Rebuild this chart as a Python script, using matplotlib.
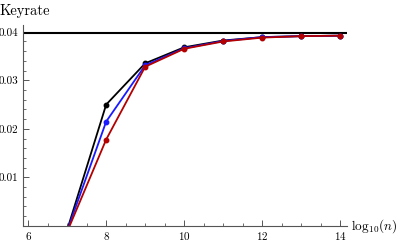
import numpy as np
import matplotlib.pyplot as plt
from matplotlib.ticker import MultipleLocator

plt.rcParams['font.family'] = ['cmr10', 'DejaVu Serif']
plt.rcParams['mathtext.fontset'] = 'cm'
plt.rcParams['axes.formatter.use_mathtext'] = True

logn = [7, 8, 9, 10, 11, 12, 13, 14]
black = [-0.0008, 0.0250, 0.0335, 0.0368, 0.0382, 0.0389, 0.0391, 0.0392]
blue = [-0.0010, 0.0215, 0.0331, 0.0366, 0.0381, 0.0389, 0.0391, 0.0392]
red = [-0.0012, 0.0178, 0.0328, 0.0365, 0.0380, 0.0388, 0.0391, 0.0392]
limit = 0.0397
yticks = [0.01, 0.02, 0.03, 0.04]
ylabels = ['0.01', '0.02', '0.03', '0.04']

fig = plt.figure(figsize=(3.99, 2.45), dpi=100)
ax = fig.add_axes([0.057, 0.078, 0.812, 0.82])

ax.axhline(limit, color='k', lw=1.5)
ax.plot(logn, black, '-o', color='k', lw=1.3, ms=3.2)
ax.plot(logn, blue, '-o', color='#1a1aff', lw=1.3, ms=3.2)
ax.plot(logn, red, '-o', color='#b30000', lw=1.3, ms=3.2)

ax.set_xlim(5.86, 14.17)
ax.set_ylim(0, 0.0414)
ax.xaxis.set_major_locator(MultipleLocator(2))
ax.xaxis.set_minor_locator(MultipleLocator(0.5))
ax.yaxis.set_minor_locator(MultipleLocator(0.002))
ax.set_yticks(yticks)
ax.set_yticklabels(ylabels)

for s in ['top', 'right']:
    ax.spines[s].set_visible(False)
for s in ['left', 'bottom']:
    ax.spines[s].set_color('#555555')
    ax.spines[s].set_linewidth(0.8)
ax.tick_params(which='both', direction='in', color='#555555', labelsize=8, pad=3)
ax.tick_params(which='major', length=4, width=0.7)
ax.tick_params(which='minor', length=2, width=0.6)

fig.text(0.0, 0.985, 'Keyrate', fontsize=10.5, va='top', ha='left')
fig.text(0.88, 0.078, r'$\log_{10}\!(n)$', fontsize=9.5, va='center', ha='left')

fig.savefig('out.png', dpi=100)
